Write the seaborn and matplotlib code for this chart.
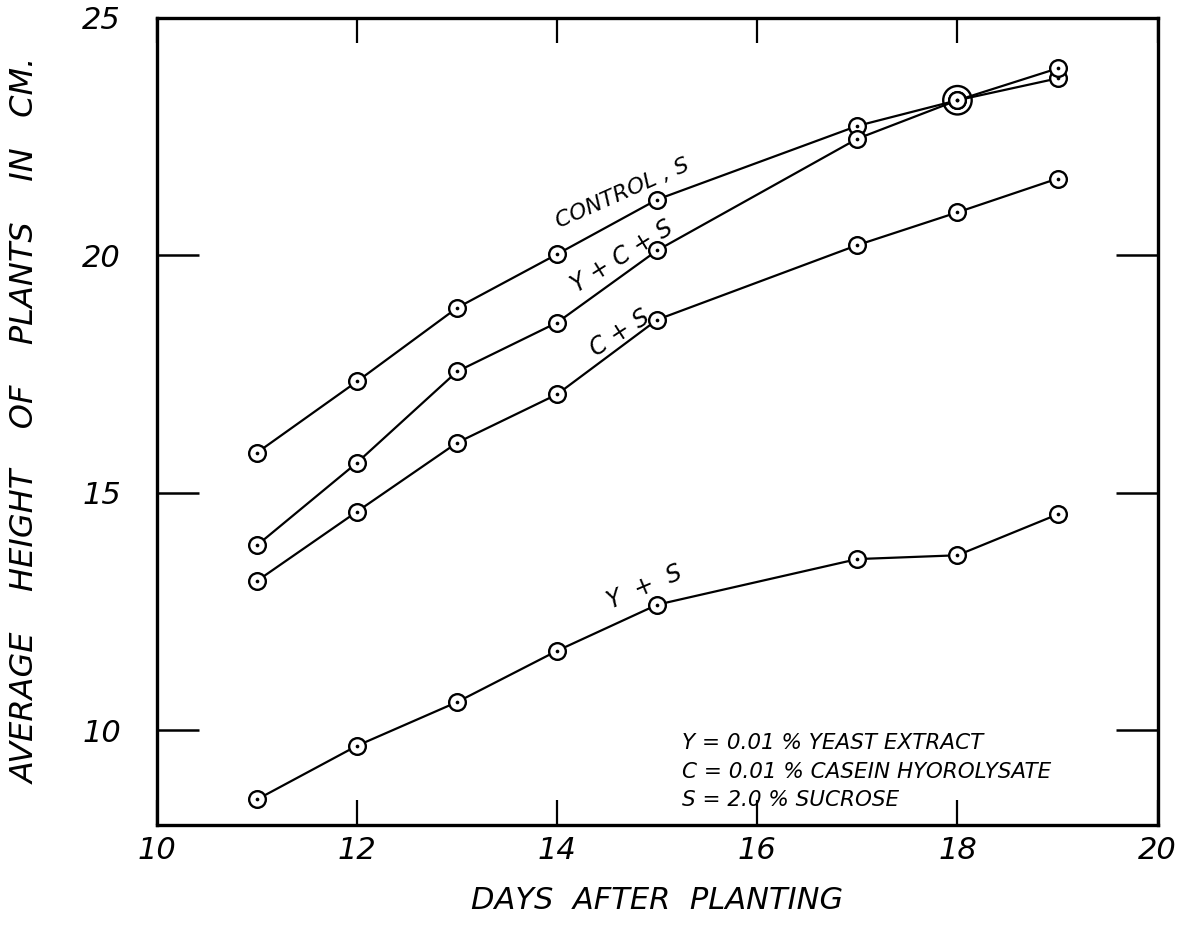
import numpy as np
import pandas as pd
import matplotlib
matplotlib.use("Agg")
import matplotlib.pyplot as plt
import seaborn as sns

# days after planting
days = [11, 12, 13, 14, 15, 17, 18, 19]

# average plant height (cm)
control_s = [15.84, 17.34, 18.89, 20.02, 21.17, 22.72, 23.26, 23.72]
y_c_s = [13.89, 15.63, 17.55, 18.58, 20.10, 22.45, 23.26, 23.93]
c_s = [13.14, 14.60, 16.05, 17.07, 18.64, 20.21, 20.90, 21.61]
y_s = [8.54, 9.67, 10.59, 11.67, 12.64, 13.60, 13.68, 14.54]

series_names = ["Control, S", "Y + C + S", "C + S", "Y + S"]

x_ticks = [10, 12, 14, 16, 18, 20]
y_ticks = [10, 15, 20, 25]

df = pd.concat([
    pd.DataFrame({"day": days, "height": vals, "series": name})
    for name, vals in zip(series_names, [control_s, y_c_s, c_s, y_s])
], ignore_index=True)

sns.set_theme(style="white")
plt.rcParams["font.family"] = ["DejaVu Sans"]
plt.rcParams["font.style"] = "italic"
plt.rcParams["text.color"] = "black"
plt.rcParams["axes.labelcolor"] = "black"
plt.rcParams["xtick.color"] = "black"
plt.rcParams["ytick.color"] = "black"

fig = plt.figure(figsize=(11.8, 9.26), dpi=100)
ax = fig.add_axes([0.133, 0.109, 0.848, 0.872])

sns.lineplot(data=df, x="day", y="height", hue="series", hue_order=series_names,
             palette=["black"] * 4, estimator=None, sort=True, legend=False,
             marker="o", markersize=12, markerfacecolor="white",
             markeredgecolor="black", markeredgewidth=1.7, linewidth=1.6, ax=ax)

# small dot in the middle of each circle
sns.scatterplot(data=df, x="day", y="height", color="black", s=7,
                linewidth=0, legend=False, ax=ax, zorder=5)

# points where two series coincide get a second ring
dup = df[df.duplicated(subset=["day", "height"], keep=False)].drop_duplicates(
    subset=["day", "height"])
ax.scatter(dup["day"], dup["height"], s=420, facecolors="none",
           edgecolors="black", linewidths=1.7, zorder=4)

ax.set_xlim(10, 20)
ax.set_ylim(8, 25)
ax.set_xticks(x_ticks)
ax.set_yticks(y_ticks)
ax.set_xticklabels([str(t) for t in x_ticks], fontsize=22, style="italic")
ax.set_yticklabels([str(t) for t in y_ticks], fontsize=22, style="italic")

ax.tick_params(axis="y", direction="in", length=30, width=1.8,
               left=True, right=True, pad=26, colors="black")
ax.tick_params(axis="x", direction="in", length=18, width=1.6,
               bottom=True, top=True, pad=8, colors="black")

for side in ax.spines.values():
    side.set_visible(True)
    side.set_color("black")
    side.set_linewidth(2.4)

ax.set_xlabel("DAYS  AFTER  PLANTING", fontsize=22, style="italic",
              color="black")
ax.xaxis.set_label_coords(0.5, -0.075)
ax.set_ylabel("AVERAGE    HEIGHT    OF    PLANTS    IN   CM.", fontsize=23,
              style="italic", color="black")
ax.yaxis.set_label_coords(-0.115, 0.5)

# series labels along the curves
ax.text(14.65, 21.3, "CONTROL , S", fontsize=16, rotation=24,
        ha="center", va="center", color="black")
ax.text(14.65, 19.98, "Y + C + S", fontsize=17, rotation=32,
        ha="center", va="center", color="black")
ax.text(14.63, 18.35, "C + S", fontsize=17, rotation=33,
        ha="center", va="center", color="black")
ax.text(14.87, 13.0, "Y  +  S", fontsize=17, rotation=23,
        ha="center", va="center", color="black")

# key
ax.text(15.25, 9.73, "Y = 0.01 % YEAST EXTRACT", fontsize=15.5,
        ha="left", va="center", color="black", fontweight="medium")
ax.text(15.25, 9.12, "C = 0.01 % CASEIN HYOROLYSATE", fontsize=15.5,
        ha="left", va="center", color="black", fontweight="medium")
ax.text(15.25, 8.52, "S = 2.0 % SUCROSE", fontsize=15.5,
        ha="left", va="center", color="black", fontweight="medium")

fig.savefig("out.png", dpi=100)
